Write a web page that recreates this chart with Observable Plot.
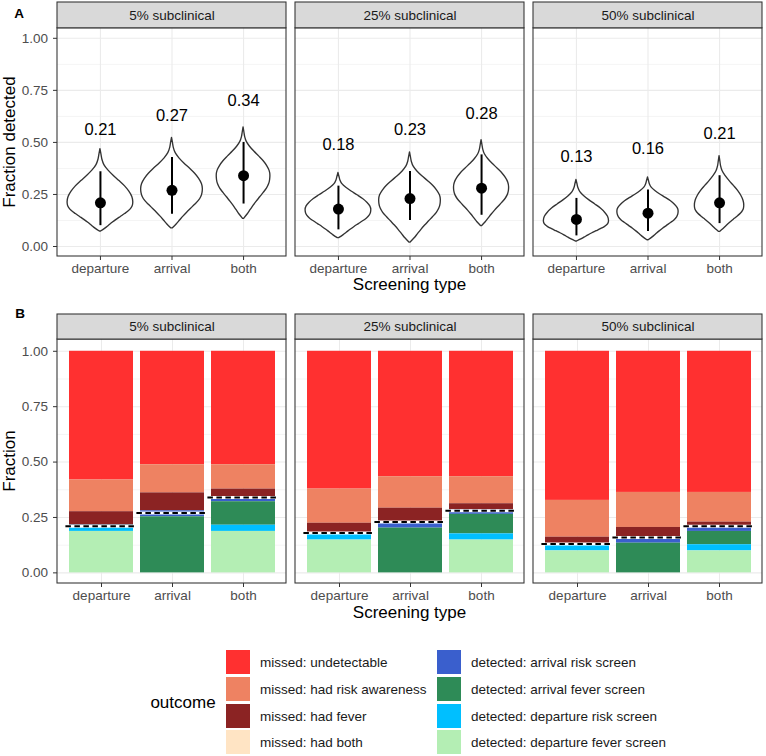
<!DOCTYPE html>
<html><head><meta charset="utf-8">
<script src="https://cdn.jsdelivr.net/npm/d3@7"></script>
<script src="https://cdn.jsdelivr.net/npm/@observablehq/plot@0.6"></script>
<style>
body{margin:0;background:#fff;font-family:"Liberation Sans",Arial,sans-serif;}
#wrap{position:relative;width:766px;height:756px;overflow:hidden;}
.abs{position:absolute;white-space:nowrap;}
.key{position:absolute;width:24px;height:24px;}
.lab{position:absolute;font-size:13.5px;color:#1a1a1a;transform:translateY(-50%);white-space:nowrap;}
</style></head><body><div id="wrap"></div>
<script>
// ---------- shared categories ----------
const subs = ["5% subclinical", "25% subclinical", "50% subclinical"];
const types = ["departure", "arrival", "both"];
const yTicks = [0, 0.25, 0.5, 0.75, 1];
const yMinor = [0.125, 0.375, 0.625, 0.875];

// ---------- panel A (order: subs x types) ----------
const meanDetected = [0.21, 0.27, 0.34, 0.18, 0.23, 0.28, 0.13, 0.16, 0.21];
const lowerCI = [0.10, 0.155, 0.204, 0.08, 0.125, 0.15, 0.051, 0.072, 0.11];
const upperCI = [0.359, 0.428, 0.50, 0.29, 0.36, 0.44, 0.231, 0.271, 0.34];
const violinMin = [0.072, 0.087, 0.133, 0.04, 0.019, 0.098, 0.024, 0.03, 0.07];
const violinMode = [0.212, 0.276, 0.34, 0.175, 0.223, 0.284, 0.123, 0.168, 0.196];
const violinMax = [0.468, 0.522, 0.572, 0.353, 0.452, 0.511, 0.32, 0.332, 0.434];
const violinHalfWidth = [0.459, 0.431, 0.375, 0.459, 0.431, 0.385, 0.455, 0.428, 0.345];
// relative width of the violin outline (lo->mode, mode->hi)
const profileBelow = [0.02, 0.15, 0.26, 0.37, 0.49, 0.62, 0.75, 0.87, 0.95, 0.99, 1];
const profileAbove = [1, 0.97, 0.88, 0.75, 0.58, 0.4, 0.24, 0.12, 0.06, 0.03, 0];

// ---------- panel B ----------
const outcomes = ["missed: undetectable", "missed: had risk awareness", "missed: had fever", "missed: had both",
  "detected: arrival risk screen", "detected: arrival fever screen", "detected: departure risk screen", "detected: departure fever screen"];
const outcomeColors = ["#FF3030", "#EE8262", "#8B2323", "#FFE4C4", "#3A5FCD", "#2E8B57", "#00BFFF", "#B4EEB4"];
const undetectable = [0.581, 0.512, 0.512, 0.622, 0.566, 0.566, 0.673, 0.637, 0.637];
const hadRisk = [0.143, 0.127, 0.110, 0.154, 0.142, 0.122, 0.166, 0.158, 0.134];
const hadFever = [0.061, 0.081, 0.038, 0.049, 0.062, 0.029, 0.031, 0.042, 0.020];
const hadBoth = [0, 0, 0, 0, 0, 0, 0, 0, 0];
const arrRisk = [0, 0.027, 0.019, 0, 0.028, 0.019, 0, 0.029, 0.022];
const arrFever = [0, 0.253, 0.106, 0, 0.202, 0.088, 0, 0.134, 0.060];
const depRisk = [0.028, 0, 0.028, 0.027, 0, 0.028, 0.031, 0, 0.028];
const depFever = [0.187, 0, 0.187, 0.148, 0, 0.148, 0.099, 0, 0.099];
const outcomeSeries = [undetectable, hadRisk, hadFever, hadBoth, arrRisk, arrFever, depRisk, depFever];

// ---------- build tables ----------
const summaryRows = [];
const violinRows = [];
subs.forEach((s, si) => types.forEach((t, ti) => {
  const k = si * 3 + ti;
  summaryRows.push({sub: s, type: t, idx: ti, mean: meanDetected[k], lower: lowerCI[k], upper: upperCI[k]});
  const lo = violinMin[k], md = violinMode[k], hi = violinMax[k], hw = violinHalfWidth[k];
  profileBelow.forEach((w, j) => {
    const y = lo + (md - lo) * j / (profileBelow.length - 1);
    violinRows.push({sub: s, key: k, y, x1: ti - w * hw, x2: ti + w * hw});
  });
  profileAbove.forEach((w, j) => {
    if (j === 0) return;
    const y = md + (hi - md) * j / (profileAbove.length - 1);
    violinRows.push({sub: s, key: k, y, x1: ti - w * hw, x2: ti + w * hw});
  });
}));
const barRows = [];
subs.forEach((s, si) => types.forEach((t, ti) => {
  const k = si * 3 + ti;
  outcomes.forEach((o, oi) => barRows.push({sub: s, type: t, outcome: o, value: outcomeSeries[oi][k]}));
}));
const stackOrder = outcomes.slice().reverse();

const font = '"Liberation Sans",Arial,sans-serif';
const fxOpts = {domain: subs, paddingInner: 0.038, paddingOuter: 0, axis: null, label: null};
const tickText = 13.5;

// ---------- Panel A ----------
const yA = [-0.048, 1.048, 1.172];
const plotA = Plot.plot({
  width: 766, height: 300, marginLeft: 56, marginRight: 3, marginTop: 2, marginBottom: 44,
  style: {fontFamily: font, background: "transparent", overflow: "visible"},
  fx: fxOpts,
  x: {type: "linear", domain: [-0.6, 2.6]},
  y: {domain: [yA[0], yA[2]]},
  marks: [
    Plot.ruleY(yMinor, {y: d => d, stroke: "#ebebeb", strokeWidth: 0.55}),
    Plot.ruleY(yTicks, {y: d => d, stroke: "#ebebeb", strokeWidth: 1.07}),
    Plot.ruleX([0, 1, 2], {x: d => d, y1: yA[0], y2: yA[1], stroke: "#ebebeb", strokeWidth: 1.07}),
    Plot.areaX(violinRows, {fx: "sub", y: "y", x1: "x1", x2: "x2", z: "key", fill: "white", stroke: "#333", strokeWidth: 1.35, curve: "monotone-y"}),
    Plot.ruleX(summaryRows, {fx: "sub", x: "idx", y1: "lower", y2: "upper", stroke: "black", strokeWidth: 2}),
    Plot.dot(summaryRows, {fx: "sub", x: "idx", y: "mean", r: 5.5, fill: "black", stroke: "none"}),
    Plot.text(summaryRows, {fx: "sub", x: "idx", y: "upper", dy: -41.6, text: d => d3.format(".2f")(d.mean), fontSize: 16.5, fill: "black"}),
    Plot.rect(subs, {fx: d => d, y1: yA[0], y2: yA[1], fill: "none", stroke: "#333", strokeWidth: 1.07}),
    Plot.rect(subs, {fx: d => d, y1: yA[1], y2: yA[2], fill: "#d9d9d9", stroke: "#333", strokeWidth: 1.07}),
    Plot.text(subs, {fx: d => d, y: (yA[1] + yA[2]) / 2, text: d => d, fontSize: tickText, fill: "#1a1a1a"}),
    Plot.axisY({ticks: yTicks, tickFormat: d3.format(".2f"), tickSize: 4, tickPadding: 5.5, fontSize: tickText, stroke: "#333", fill: "#4d4d4d", label: null}),
    Plot.axisX({ticks: [0, 1, 2], tickFormat: i => types[i], tickSize: 4, tickPadding: 3, fontSize: tickText, stroke: "#333", fill: "#4d4d4d", label: null})
  ]
});

// ---------- Panel B ----------
const yB = [-0.048, 1.053, 1.166];
const plotB = Plot.plot({
  width: 766, height: 322, marginLeft: 56, marginRight: 3, marginTop: 14, marginBottom: 39,
  style: {fontFamily: font, background: "transparent", overflow: "visible"},
  fx: fxOpts,
  x: {domain: types, paddingInner: 0.1, paddingOuter: 0.15},
  y: {domain: [yB[0], yB[2]]},
  color: {domain: outcomes, range: outcomeColors},
  marks: [
    Plot.ruleY(yMinor, {y: d => d, stroke: "#ebebeb", strokeWidth: 0.55}),
    Plot.ruleY(yTicks, {y: d => d, stroke: "#ebebeb", strokeWidth: 1.07}),
    Plot.gridX({stroke: "#ebebeb", strokeOpacity: 1, strokeWidth: 1.07}),
    Plot.barY(barRows, {fx: "sub", x: "type", y: "value", fill: "outcome", order: stackOrder}),
    Plot.tickY(summaryRows, {fx: "sub", x: "type", y: "mean", stroke: "white", strokeWidth: 3, insetLeft: -3.6, insetRight: -3.6}),
    Plot.tickY(summaryRows, {fx: "sub", x: "type", y: "mean", stroke: "black", strokeWidth: 2, strokeDasharray: "5.5,3.5", insetLeft: -3.6, insetRight: -3.6}),
    Plot.rect(subs, {fx: d => d, y1: yB[0], y2: yB[1], fill: "none", stroke: "#333", strokeWidth: 1.07}),
    Plot.rect(subs, {fx: d => d, y1: yB[1], y2: yB[2], fill: "#d9d9d9", stroke: "#333", strokeWidth: 1.07}),
    Plot.text(subs, {fx: d => d, y: (yB[1] + yB[2]) / 2, text: d => d, fontSize: tickText, fill: "#1a1a1a"}),
    Plot.axisY({ticks: yTicks, tickFormat: d3.format(".2f"), tickSize: 4, tickPadding: 5.5, fontSize: tickText, stroke: "#333", fill: "#4d4d4d", label: null}),
    Plot.axisX({tickSize: 4, tickPadding: 3, fontSize: tickText, stroke: "#333", fill: "#4d4d4d", label: null})
  ]
});

// ---------- assemble ----------
const wrap = document.getElementById("wrap");
plotA.style.position = "absolute"; plotA.style.left = "0px"; plotA.style.top = "0px";
plotB.style.position = "absolute"; plotB.style.left = "0px"; plotB.style.top = "300px";
wrap.appendChild(plotA);
wrap.appendChild(plotB);

function addText(txt, x, y, css, rot) {
  const d = document.createElement("div");
  d.className = "abs";
  d.textContent = txt;
  d.style.left = x + "px"; d.style.top = y + "px";
  d.style.transform = "translate(-50%,-50%)" + (rot ? " rotate(-90deg)" : "");
  Object.assign(d.style, css);
  wrap.appendChild(d);
}
const titleCss = {fontSize: "17px", color: "#000"};
addText("A", 19, 13, {fontSize: "13.5px", fontWeight: "bold"});
addText("B", 20, 313, {fontSize: "13.5px", fontWeight: "bold"});
addText("Fraction detected", 10, 141.7, titleCss, true);
addText("Fraction", 10, 461, titleCss, true);
addText("Screening type", 409.5, 285, titleCss);
addText("Screening type", 409.5, 613, titleCss);
addText("outcome", 183, 703, {fontSize: "17px"});

// legend (two columns of four)
outcomes.forEach((o, i) => {
  const col = Math.floor(i / 4), row = i % 4;
  const kx = col === 0 ? 226 : 437;
  const ky = 650 + row * 26.8;
  const k = document.createElement("div");
  k.className = "key";
  k.style.left = kx + "px"; k.style.top = ky + "px";
  k.style.background = outcomeColors[i];
  wrap.appendChild(k);
  const l = document.createElement("div");
  l.className = "lab";
  l.textContent = o;
  l.style.left = (kx + 34) + "px"; l.style.top = (ky + 12) + "px";
  wrap.appendChild(l);
});
</script></body></html>
